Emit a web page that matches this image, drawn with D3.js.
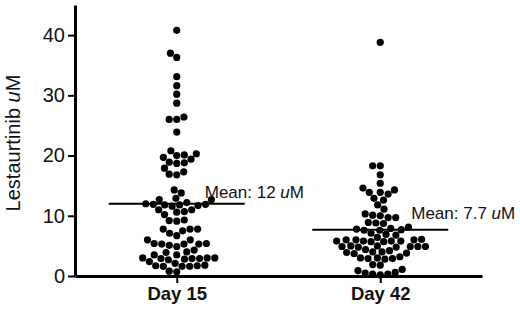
<!DOCTYPE html>
<html>
<head>
<meta charset="utf-8">
<script src="https://cdn.jsdelivr.net/npm/d3@7"></script>
<style>
body{margin:0;background:#fff;}
text{font-family:"Liberation Sans",Arial,sans-serif;}
</style>
</head>
<body>
<script>
var w=520;
var h=309;

// groups and the values
var groups=["Day 15","Day 42"];
var day15=[40.8,37.0,36.3,33.1,31.6,30.2,28.7,26.4,26.0,26.0,23.9,
  20.8,20.3,20.1,20.0,19.7,19.4,18.9,18.8,18.7,17.9,17.3,16.9,16.8,
  14.3,13.8,12.9,12.7,12.7,
  12.2,12.0,11.9,11.9,11.8,11.8,11.7,11.6,
  11.0,11.0,10.7,10.6,10.2,
  9.3,9.2,9.1,
  7.8,7.8,7.8,7.5,7.1,6.7,
  6.0,6.0,5.4,5.4,5.3,5.3,5.3,5.1,4.9,
  4.3,4.0,3.9,
  3.5,3.5,3.0,3.0,3.0,2.9,2.9,2.9,2.8,2.7,2.4,
  2.1,1.8,1.7,1.7,1.6,1.6,1.6,
  0.8,0.7];
var day42=[38.8,
  18.3,18.3,16.8,15.4,
  14.6,14.3,13.9,13.9,13.6,
  12.9,12.6,11.8,11.1,
  10.3,10.1,10.0,9.7,9.7,
  8.9,8.8,8.7,
  8.1,7.9,7.8,7.7,7.6,7.6,
  7.1,6.9,6.8,
  6.4,6.1,6.0,6.0,6.0,5.8,5.8,5.8,5.8,5.7,5.7,
  5.0,5.0,4.9,4.9,4.9,4.9,4.8,4.8,4.4,
  4.2,4.0,4.0,3.9,3.8,3.7,
  3.2,3.0,3.0,2.9,2.9,2.8,
  1.9,1.8,
  1.1,0.9,0.6,0.5,0.3,0.3,0.2];
var means=[12,7.7];
var meanLabels=["Mean: 12 ","Mean: 7.7 "];
var yTicks=[0,10,20,30,40];

var svg=d3.select("body").append("svg")
  .attr("width",w)
  .attr("height",h);

var y=d3.scaleLinear().domain([0,45]).range([276,5]);
var x=d3.scalePoint().domain(groups).range([75,482]).padding(0.5);

var r=3.6, D=7.6;

// simple beeswarm: put each dot as close to the centre as it can go
function swarm(vals){
  var placed=[];
  vals.slice().sort((a,b)=>a-b).forEach(v=>{
    var cy=y(v);
    var blocked=placed.filter(p=>Math.abs(p.cy-cy)<D).map(p=>{
      var s=Math.sqrt(D*D-(p.cy-cy)*(p.cy-cy));
      return [p.dx-s,p.dx+s];
    });
    var cands=[0];
    blocked.forEach(b=>{cands.push(b[0],b[1]);});
    cands.sort((a,b)=>Math.abs(a)-Math.abs(b));
    var dx=cands.find(c=>blocked.every(b=>c<=b[0]+1e-6||c>=b[1]-1e-6));
    placed.push({v:v,cy:cy,dx:dx});
  });
  return placed;
}

[day15,day42].forEach((vals,i)=>{
  var cx=x(groups[i]);
  svg.append("g").selectAll("circle")
    .data(swarm(vals))
    .enter()
    .append("circle")
    .attr("cx",d=>cx+d.dx)
    .attr("cy",d=>d.cy)
    .attr("r",r)
    .attr("fill","#000");
});

// mean lines
svg.selectAll("line.mean")
  .data(means)
  .enter()
  .append("line")
  .attr("class","mean")
  .attr("x1",(d,i)=>x(groups[i])-68)
  .attr("x2",(d,i)=>x(groups[i])+68)
  .attr("y1",d=>y(d))
  .attr("y2",d=>y(d))
  .attr("stroke","#000")
  .attr("stroke-width",2);

var labDx=[28,31], labDy=[-6,-11];
var ml=svg.selectAll("text.mean")
  .data(means)
  .enter()
  .append("text")
  .attr("class","mean")
  .attr("x",(d,i)=>x(groups[i])+labDx[i])
  .attr("y",(d,i)=>y(d)+labDy[i])
  .attr("font-size",17)
  .attr("fill","#111");
ml.append("tspan").text((d,i)=>meanLabels[i]);
ml.append("tspan").attr("font-style","italic").text("u");
ml.append("tspan").text("M");

// axes
var yAxis=svg.append("g")
  .attr("transform","translate(75,0)")
  .call(d3.axisLeft(y).tickValues(yTicks).tickSize(7).tickSizeOuter(0).tickPadding(3));
yAxis.select(".domain").attr("stroke-width",3);
yAxis.selectAll(".tick line").attr("stroke-width",2);
yAxis.selectAll(".tick text").attr("font-size",20).attr("fill","#111").attr("font-family","Liberation Sans, Arial");

var xAxis=svg.append("g")
  .attr("transform","translate(0,276)")
  .call(d3.axisBottom(x).tickSize(7).tickSizeOuter(0).tickPadding(4));
xAxis.select(".domain").attr("stroke-width",3);
xAxis.selectAll(".tick line").attr("stroke-width",2);
xAxis.selectAll(".tick text").attr("font-size",18.5).attr("font-weight","bold").attr("fill","#111").attr("font-family","Liberation Sans, Arial");

// y title
var yt=svg.append("text")
  .attr("transform","translate(20,143) rotate(-90)")
  .attr("text-anchor","middle")
  .attr("font-size",20)
  .attr("fill","#111");
yt.append("tspan").text("Lestaurtinib ");
yt.append("tspan").attr("font-style","italic").text("u");
yt.append("tspan").text("M");
</script>
</body>
</html>
